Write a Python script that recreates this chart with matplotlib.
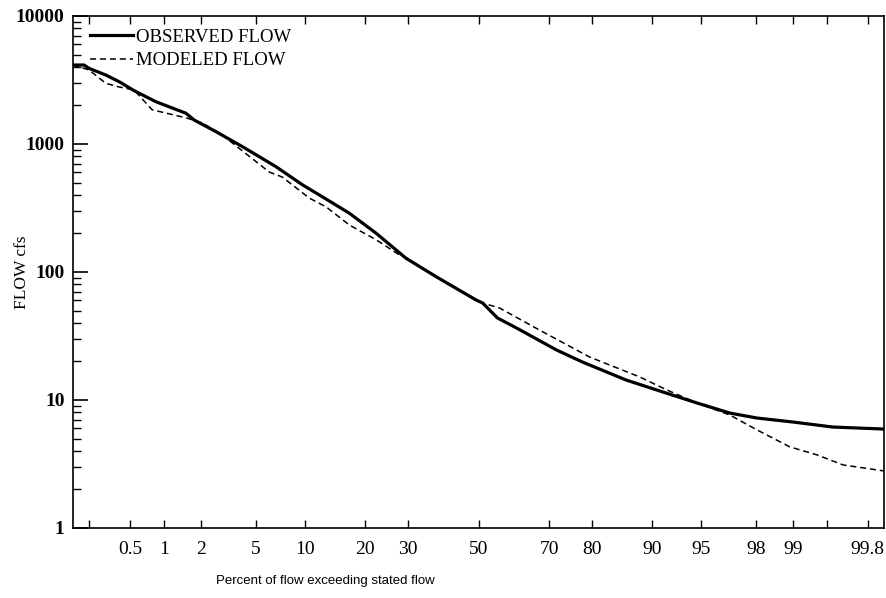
#!/usr/bin/env python3
from statistics import NormalDist
import numpy as np
import matplotlib
matplotlib.use("Agg")
import matplotlib.pyplot as plt
from matplotlib.ticker import FixedLocator, NullLocator, LogLocator, NullFormatter

# percent of time flow is exceeded, flow in cfs
obs_pct = [0.135, 0.176, 0.198, 0.291, 0.392, 0.542, 0.849, 1.52, 1.77, 2.60,
           4.04, 6.70, 9.66, 11.94, 16.96, 22.43, 29.6, 37.7, 49.3, 51.2,
           55.6, 61.1, 71.8, 77.9, 86.3, 91.8, 94.7, 96.85, 98.03, 99.0,
           99.56, 99.865]
obs_flow = [4140, 4140, 3900, 3460, 3070, 2610, 2140, 1740, 1540, 1250,
            953, 665, 479, 400, 288, 201, 128, 91.9, 60.4, 57.3,
            43.7, 36.5, 24.6, 19.8, 14.3, 11.3, 9.48, 7.91, 7.23, 6.73,
            6.15, 5.93]

mod_pct = [0.135, 0.198, 0.291, 0.392, 0.542, 0.787, 1.53, 2.05, 2.90, 6.08,
           7.33, 10.53, 13.0, 16.96, 22.5, 27.9, 29.8, 37.7, 51.2, 56.2,
           67.4, 79.4, 88.4, 91.8, 94.7, 96.85, 98.03, 98.94, 99.39, 99.65,
           99.865]
mod_flow = [4140, 3790, 2980, 2790, 2640, 1850, 1600, 1460, 1175, 604,
            552, 378, 322, 233, 178, 136, 128, 91.4, 57.3, 52.3,
            35.2, 21.7, 15.1, 12.0, 9.48, 7.64, 5.84, 4.30, 3.72, 3.11,
            2.79]

x_ticks = [0.2, 0.5, 1, 2, 5, 10, 20, 30, 50, 70, 80, 90, 95, 98, 99, 99.5, 99.8]
x_labels = ["", "0.5", "1", "2", "5", "10", "20", "30", "50", "70", "80", "90",
            "95", "98", "99", "", "99.8"]
y_ticks = [1, 10, 100, 1000, 10000]

nd = NormalDist()
fwd = np.vectorize(lambda p: nd.inv_cdf(min(max(p / 100.0, 1e-12), 1 - 1e-12)), otypes=[float])
inv = np.vectorize(lambda z: nd.cdf(z) * 100.0, otypes=[float])

serif = "Liberation Serif"

fig = plt.figure(figsize=(8.86, 5.98), dpi=100)
ax = fig.add_axes([73 / 886, 1 - 528 / 598, 811 / 886, 512 / 598])

ax.plot(obs_pct, obs_flow, "-", color="black", lw=2.3, label="OBSERVED FLOW")
ax.plot(mod_pct, mod_flow, color="black", lw=1.1, linestyle=(0, (4, 2.5)),
        label="MODELED FLOW")

ax.set_xscale("function", functions=(fwd, inv))
ax.set_yscale("log")
ax.set_xlim(nd.cdf(-3) * 100, nd.cdf(3) * 100)
ax.set_ylim(1, 10000)

ax.xaxis.set_major_locator(FixedLocator(x_ticks))
ax.xaxis.set_minor_locator(NullLocator())
ax.set_xticklabels(x_labels, family=serif, fontsize=14)
ax.set_yticks(y_ticks)
ax.set_yticklabels([str(v) for v in y_ticks], family=serif, fontsize=14, fontweight="bold")
ax.yaxis.set_minor_locator(LogLocator(base=10, subs=np.arange(2, 10)))
ax.yaxis.set_minor_formatter(NullFormatter())

ax.tick_params(axis="x", which="major", direction="in", length=6, width=1,
               top=True, bottom=True, pad=9)
ax.tick_params(axis="y", which="major", direction="in", length=11, width=1.2,
               left=True, right=False, pad=6)
ax.tick_params(axis="y", which="minor", direction="in", length=6, width=1,
               left=True, right=False)
for s in ax.spines.values():
    s.set_linewidth(1.2)

fig.text(22 / 886, 1 - 272 / 598, "FLOW cfs", family=serif, fontsize=12.5,
         rotation=90, ha="center", va="center")
fig.text(325 / 886, 1 - 581 / 598, "Percent of flow exceeding stated flow",
         family="Liberation Sans", fontsize=9.5, ha="center", va="center")

ax.legend(loc="upper left", bbox_to_anchor=(0.012, 0.99), frameon=False,
          prop={"family": serif, "size": 13.5}, handlelength=2.3,
          handletextpad=0.15, labelspacing=0.35, borderaxespad=0)

plt.savefig("out.png", dpi=100)
print("Saved out.png")
